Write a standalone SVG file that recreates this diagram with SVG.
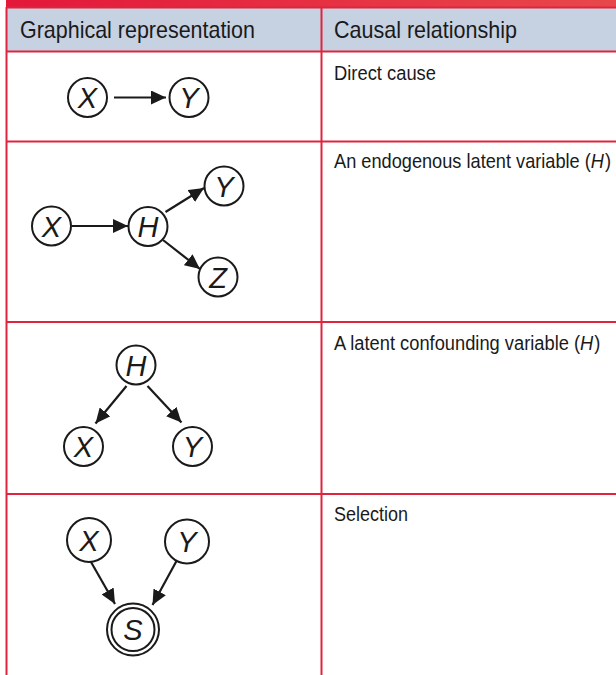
<svg xmlns="http://www.w3.org/2000/svg" width="616" height="675" viewBox="0 0 616 675">
<defs>
<linearGradient id="band" x1="0" y1="0" x2="1" y2="0">
<stop offset="0" stop-color="#e3183a"/>
<stop offset="1" stop-color="#e8484a"/>
</linearGradient>
<marker id="ah" viewBox="0 0 15 14" refX="15" refY="7" markerWidth="15" markerHeight="14" orient="auto" markerUnits="userSpaceOnUse">
<path d="M0,0 L15,7 L0,14 Z" fill="#1a1a1a"/>
</marker>
<style>
.grid{stroke:#e0243f;stroke-width:2;fill:none}
.hdr{font-family:"Liberation Sans Narrow","Liberation Sans",Arial,sans-serif;font-size:24px;fill:#1a1a1a}
.body{font-family:"Liberation Sans Narrow","Liberation Sans",Arial,sans-serif;font-size:20px;fill:#1a1a1a}
.it{font-style:italic}
.node circle{fill:#fff;stroke:#1a1a1a;stroke-width:2}
.node text{font-family:"Liberation Sans",Arial,sans-serif;font-size:29px;font-style:italic;fill:#1a1a1a;text-anchor:middle}
.edge{stroke:#1a1a1a;stroke-width:2.2;fill:none;marker-end:url(#ah)}
</style>
</defs>
<rect x="6" y="0" width="610" height="7" fill="url(#band)"/>
<rect x="6.5" y="7.5" width="610" height="44" fill="#c6d1e1"/>
<g id="table">
<line class="grid" x1="6" y1="7.5" x2="616" y2="7.5"/>
<line class="grid" x1="6" y1="51.5" x2="616" y2="51.5"/>
<line class="grid" x1="6" y1="141.5" x2="616" y2="141.5"/>
<line class="grid" x1="6" y1="322" x2="616" y2="322"/>
<line class="grid" x1="6" y1="494" x2="616" y2="494"/>
<line class="grid" x1="6.5" y1="7" x2="6.5" y2="675"/>
<line class="grid" x1="321.5" y1="7" x2="321.5" y2="675"/>
</g>
<g id="headers">
<text class="hdr" x="20" y="38" textLength="235" lengthAdjust="spacingAndGlyphs">Graphical representation</text>
<text class="hdr" x="334" y="38" textLength="183" lengthAdjust="spacingAndGlyphs">Causal relationship</text>
</g>
<g id="labels">
<text class="body" x="334" y="80" textLength="102" lengthAdjust="spacingAndGlyphs">Direct cause</text>
<text class="body" transform="translate(334,168) scale(0.91,1)" x="0" y="0">An endogenous latent variable (<tspan class="it">H</tspan><tspan dx="1">)</tspan></text>
<text class="body" transform="translate(334,350) scale(0.915,1)" x="0" y="0">A latent confounding variable (<tspan class="it">H</tspan><tspan dx="1">)</tspan></text>
<text class="body" x="334" y="521" textLength="74" lengthAdjust="spacingAndGlyphs">Selection</text>
</g>
<g id="connectors">
<line class="edge" x1="114" y1="97.5" x2="166" y2="97.5"/>
<line class="edge" x1="72" y1="226" x2="128" y2="226"/>
<line class="edge" x1="165.5" y1="212" x2="204" y2="188"/>
<line class="edge" x1="163" y1="240" x2="200" y2="269"/>
<line class="edge" x1="126.5" y1="386" x2="95.5" y2="423.5"/>
<line class="edge" x1="147.5" y1="386" x2="181.5" y2="422.5"/>
<line class="edge" x1="91" y1="562" x2="115" y2="604"/>
<line class="edge" x1="176.5" y1="561" x2="152.5" y2="605"/>
</g>
<g id="r1-x" class="node"><circle cx="87.5" cy="97.5" r="19.5"/><text x="87.5" y="108">X</text></g>
<g id="r1-y" class="node"><circle cx="189" cy="97.5" r="19.5"/><text x="189" y="108">Y</text></g>
<g id="r2-x" class="node"><circle cx="51.5" cy="226" r="19.5"/><text x="51.5" y="236.5">X</text></g>
<g id="r2-h" class="node"><circle cx="148" cy="226.5" r="19.5"/><text x="148" y="237">H</text></g>
<g id="r2-y" class="node"><circle cx="224" cy="186" r="19.5"/><text x="224" y="196.5">Y</text></g>
<g id="r2-z" class="node"><circle cx="218" cy="277" r="19.5"/><text x="218" y="287.5">Z</text></g>
<g id="r3-h" class="node"><circle cx="136" cy="365" r="19.5"/><text x="136" y="375.5">H</text></g>
<g id="r3-x" class="node"><circle cx="83.5" cy="446.5" r="19.5"/><text x="83.5" y="457">X</text></g>
<g id="r3-y" class="node"><circle cx="192.5" cy="446.5" r="19.5"/><text x="192.5" y="457">Y</text></g>
<g id="r4-x" class="node"><circle cx="89" cy="540" r="22"/><text x="89" y="550.5">X</text></g>
<g id="r4-y" class="node"><circle cx="187" cy="541.5" r="22"/><text x="187" y="552">Y</text></g>
<g id="r4-s" class="node"><circle cx="133" cy="629.5" r="26"/><circle cx="133" cy="629.5" r="21.5"/><text x="133" y="640" font-style="normal">S</text></g>
</svg>
